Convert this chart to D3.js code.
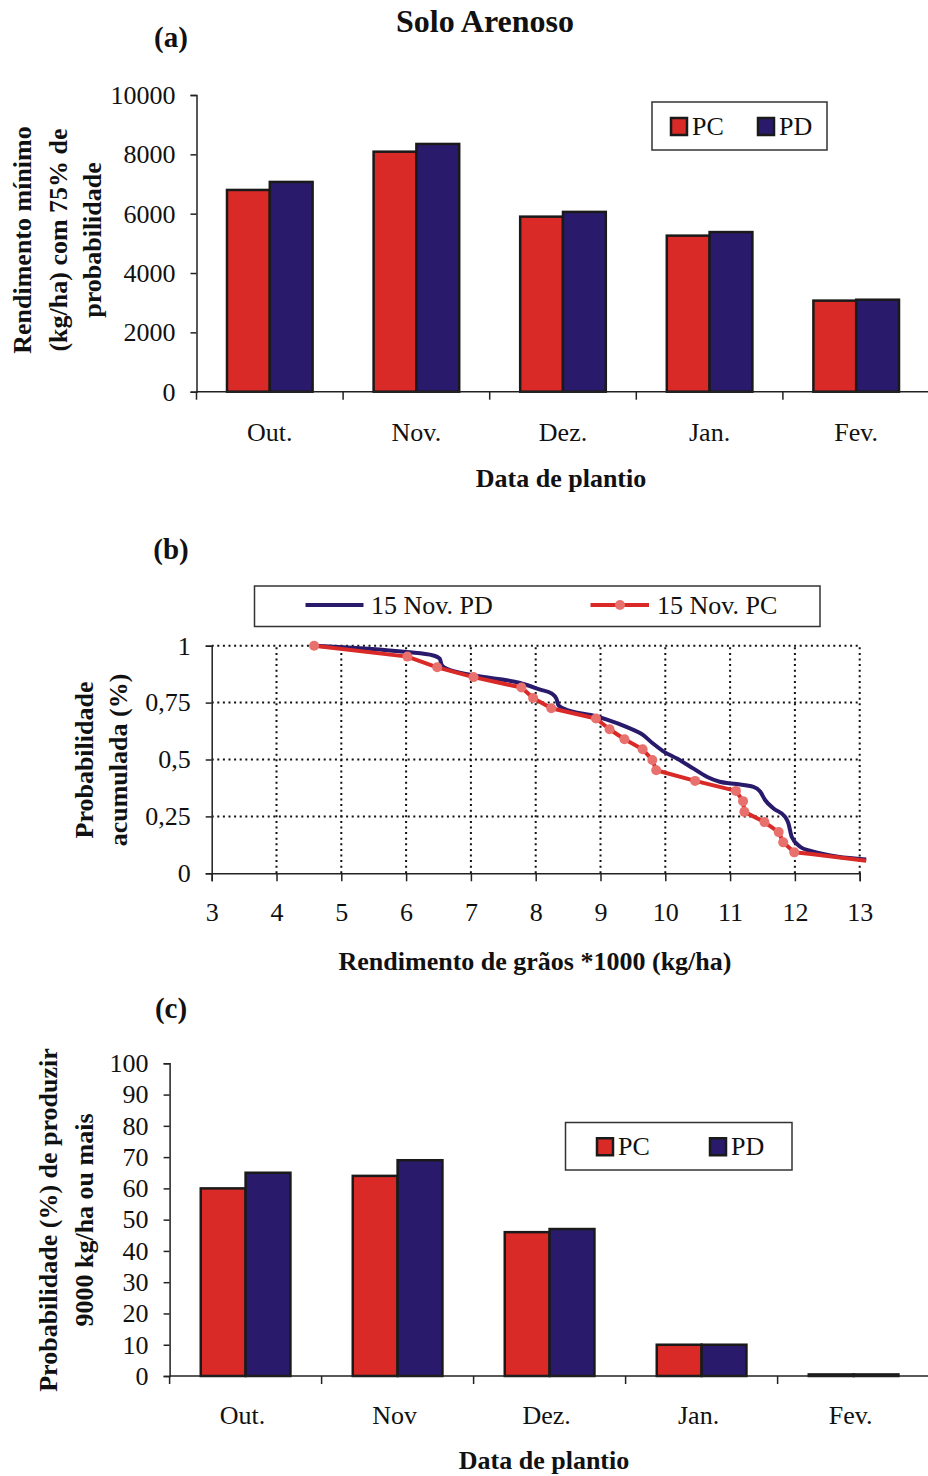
<!DOCTYPE html>
<html><head><meta charset="utf-8">
<script src="https://cdn.jsdelivr.net/npm/d3@7"></script>
<style>body{margin:0;background:#fff}svg{display:block}text{font-family:"Liberation Serif","Times New Roman",serif;fill:#111}</style>
</head><body><svg id="c" width="928" height="1476"></svg>
<script>
// ---------- data ----------
const categoriesA = ["Out.", "Nov.", "Dez.", "Jan.", "Fev."];
const seriesNames = ["PC", "PD"];
const minYieldPC = [6800, 8090, 5900, 5260, 3070];
const minYieldPD = [7070, 8350, 6060, 5380, 3100];
const yTicksA = [0, 2000, 4000, 6000, 8000, 10000];

const pcX = [4.58, 6.02, 6.48, 7.04, 7.78, 7.96, 8.24, 8.93, 9.14, 9.37, 9.65, 9.80, 9.86, 10.46, 11.09, 11.20, 11.22, 11.53, 11.75, 11.82, 11.99, 12.25, 13.1];
const pcY = [1.0, 0.952, 0.905, 0.862, 0.816, 0.770, 0.725, 0.680, 0.633, 0.589, 0.545, 0.498, 0.453, 0.406, 0.362, 0.317, 0.270, 0.225, 0.181, 0.136, 0.092, 0.085, 0.055];
const pcMarker = [1,1,1,1,1,1,1,1,1,1,1,1,1,1,1,1,1,1,1,1,1,0,0];
const pdX = [4.58, 6.01, 6.42, 6.52, 6.55, 6.62, 7.04, 7.76, 8.07, 8.25, 8.32, 8.35, 8.43, 8.93, 9.10, 9.40, 9.66, 9.81, 9.97, 10.18, 10.43, 10.64, 10.84, 11.10, 11.36, 11.46, 11.54, 11.67, 11.85, 11.90, 11.95, 12.08, 12.23, 13.1];
const pdY = [1.0, 0.972, 0.957, 0.943, 0.914, 0.900, 0.870, 0.836, 0.807, 0.789, 0.767, 0.738, 0.724, 0.690, 0.675, 0.643, 0.607, 0.570, 0.536, 0.504, 0.461, 0.424, 0.402, 0.392, 0.380, 0.361, 0.322, 0.285, 0.248, 0.219, 0.161, 0.117, 0.099, 0.061];
const xTicksB = [3,4,5,6,7,8,9,10,11,12,13];
const yTicksB = [0, 0.25, 0.5, 0.75, 1];
const yTickLabelsB = ["0", "0,25", "0,5", "0,75", "1"];

const categoriesC = ["Out.", "Nov", "Dez.", "Jan.", "Fev."];
const probPC = [60, 64, 46, 10, 0.5];
const probPD = [65, 69, 47, 10, 0.5];
const yTicksC = [0,10,20,30,40,50,60,70,80,90,100];

// ---------- style ----------
const RED = "#d92a27", NAVY = "#2a1a6c", MARK = "#e8716d";
const svg = d3.select("#c");
const FS = 26;

svg.append("text").attr("x", 485).attr("y", 32).attr("text-anchor","middle")
  .attr("font-size", 32).attr("font-weight","bold").text("Solo Arenoso");

function panelLabel(t, x, y){
  svg.append("text").attr("x", x).attr("y", y).attr("text-anchor","middle")
    .attr("font-size", 29).attr("font-weight","bold").text(t);
}
panelLabel("(a)", 171, 47);
panelLabel("(b)", 171, 559);
panelLabel("(c)", 171, 1018);

function barPanel(o){
  const g = svg.append("g");
  const x = d3.scaleBand().domain(o.cats).range([o.x0, o.x1]).padding(0);
  const bw = x.bandwidth();
  const xs = d3.scaleBand().domain(seriesNames).range([bw*o.gIn, bw*(1-o.gIn)]).padding(0);
  const y = d3.scaleLinear().domain([0, o.yMax]).range([o.yb, o.yt]);
  const vals = [o.pc, o.pd];
  const cols = [RED, NAVY];
  seriesNames.forEach((s, si) => {
    g.selectAll(null).data(o.cats).enter().append("rect")
      .attr("x", c => x(c) + xs(s)).attr("width", xs.bandwidth())
      .attr("y", (c,i) => y(vals[si][i])).attr("height", (c,i) => y(0) - y(vals[si][i]))
      .attr("fill", cols[si]).attr("stroke", "#1a1a1a").attr("stroke-width", 2.5);
  });
  // y axis
  const ya = d3.axisLeft(y).tickValues(o.yTicks).tickSize(6).tickPadding(15).tickFormat(d3.format("d"));
  const yg = g.append("g").attr("transform", `translate(${o.x0},0)`).call(ya);
  yg.select(".domain").attr("stroke","#222").attr("stroke-width",1.5);
  yg.selectAll(".tick line").attr("stroke","#222").attr("stroke-width",1.5);
  yg.selectAll(".tick text").attr("font-size", FS).attr("font-family","Liberation Serif").attr("fill","#111");
  // x axis line + boundary ticks
  g.append("line").attr("x1", o.x0).attr("x2", o.x1).attr("y1", y(0)).attr("y2", y(0)).attr("stroke","#222").attr("stroke-width",1.5);
  g.selectAll(null).data(o.cats).enter().append("line")
    .attr("x1", c => x(c)).attr("x2", c => x(c)).attr("y1", y(0)).attr("y2", y(0)+8)
    .attr("stroke","#222").attr("stroke-width",1.5);
  g.selectAll(null).data(o.cats).enter().append("text")
    .attr("x", c => x(c) + bw/2 + (o.labDx||0)).attr("y", y(0) + o.labOff).attr("text-anchor","middle")
    .attr("font-size", FS).text(c => c);
  g.append("text").attr("x", o.xtX).attr("y", o.xtY).attr("text-anchor","middle")
    .attr("font-size", FS).attr("font-weight","bold").text("Data de plantio");
  // y title
  o.ytLines.forEach((t, i) => {
    g.append("text").attr("transform", `translate(${o.ytX[i]},${o.ytCy}) rotate(-90)`)
      .attr("text-anchor","middle").attr("font-size", FS).attr("font-weight","bold").text(t);
  });
  // legend
  const L = o.leg;
  g.append("rect").attr("x", L.x).attr("y", L.y).attr("width", L.w).attr("height", L.h)
    .attr("fill","#fff").attr("stroke","#333").attr("stroke-width",1.5);
  seriesNames.forEach((s, si) => {
    g.append("rect").attr("x", L.sx[si]).attr("y", L.y + L.h/2 - 8).attr("width", 16).attr("height", 17)
      .attr("fill", cols[si]).attr("stroke","#1a1a1a").attr("stroke-width",2.5);
    g.append("text").attr("x", L.sx[si] + 21).attr("y", L.y + L.h/2 + 9).attr("font-size", FS).text(s);
  });
}

barPanel({cats: categoriesA, pc: minYieldPC, pd: minYieldPD, x0: 196.5, x1: 929.5, gIn: 0.208,
  yMax: 10000, yb: 391.7, yt: 95, yTicks: yTicksA, labOff: 49, xtX: 561, xtY: 487,
  ytLines: ["Rendimento mínimo", "(kg/ha) com 75% de", "probabilidade"], ytX: [31, 67, 101], ytCy: 240,
  leg: {x: 652, y: 102, w: 175, h: 48, sx: [671, 758]}});

barPanel({cats: categoriesC, pc: probPC, pd: probPD, x0: 169.6, x1: 929.6, gIn: 0.205,
  yMax: 100, yb: 1376, yt: 1063.3, yTicks: yTicksC, labOff: 48, xtX: 544, xtY: 1469, labDx: -3,
  ytLines: ["Probabilidade (%) de produzir", "9000 kg/ha ou mais"], ytX: [57, 93], ytCy: 1220,
  leg: {x: 565.5, y: 1122.5, w: 226.5, h: 47.5, sx: [597, 710]}});

// ---------- panel b ----------
(function(){
  const g = svg.append("g");
  const x = d3.scaleLinear().domain([3, 13]).range([211.7, 859.7]);
  const y = d3.scaleLinear().domain([0, 1]).range([873.3, 645.7]);
  // grid
  xTicksB.filter(d => d > 3).forEach(d => {
    g.append("line").attr("x1", x(d)).attr("x2", x(d)).attr("y1", y(0)).attr("y2", y(1))
      .attr("stroke","#111").attr("stroke-width",2).attr("stroke-dasharray","2,3.6");
  });
  yTicksB.filter(d => d > 0).forEach(d => {
    g.append("line").attr("x1", x(3)).attr("x2", x(13)).attr("y1", y(d)).attr("y2", y(d))
      .attr("stroke","#111").attr("stroke-width",2).attr("stroke-dasharray","2,3.6");
  });
  const xa = d3.axisBottom(x).tickValues(xTicksB).tickSize(8).tickPadding(21).tickFormat(d3.format("d"));
  const xg = g.append("g").attr("transform", `translate(0,${y(0)})`).call(xa);
  const ya = d3.axisLeft(y).tickValues(yTicksB).tickSize(6).tickPadding(15).tickFormat((d,i) => yTickLabelsB[i]);
  const yg = g.append("g").attr("transform", `translate(${x(3)},0)`).call(ya);
  [xg, yg].forEach(a => {
    a.select(".domain").attr("stroke","#222").attr("stroke-width",1.5);
    a.selectAll(".tick line").attr("stroke","#222").attr("stroke-width",1.5);
    a.selectAll(".tick text").attr("font-size", FS).attr("font-family","Liberation Serif").attr("fill","#111");
  });
  const line = d3.line().x(d => x(d[0])).y(d => y(d[1])).curve(d3.curveMonotoneX);
  const pd = pdX.map((v,i) => [v, pdY[i]]);
  const pc = pcX.map((v,i) => [v, pcY[i]]);
  g.append("path").attr("d", line(pd)).attr("fill","none").attr("stroke", NAVY).attr("stroke-width",4).attr("stroke-linejoin","round");
  g.append("path").attr("d", d3.line().x(d => x(d[0])).y(d => y(d[1]))(pc)).attr("fill","none").attr("stroke", RED).attr("stroke-width",4).attr("stroke-linejoin","round");
  g.selectAll(null).data(pc.filter((d,i) => pcMarker[i])).enter().append("circle")
    .attr("cx", d => x(d[0])).attr("cy", d => y(d[1])).attr("r", 5).attr("fill", MARK);
  g.append("text").attr("x", 535).attr("y", 970).attr("text-anchor","middle").attr("font-size", FS).attr("font-weight","bold")
    .text("Rendimento de grãos *1000 (kg/ha)");
  ["Probabilidade", "acumulada (%)"].forEach((t,i) => {
    g.append("text").attr("transform", `translate(${[93,127][i]},760) rotate(-90)`).attr("text-anchor","middle")
      .attr("font-size", FS).attr("font-weight","bold").text(t);
  });
  // legend
  g.append("rect").attr("x", 254.5).attr("y", 586).attr("width", 565.5).attr("height", 40.5)
    .attr("fill","#fff").attr("stroke","#333").attr("stroke-width",1.5);
  g.append("line").attr("x1", 305.5).attr("x2", 363.5).attr("y1", 605).attr("y2", 605).attr("stroke", NAVY).attr("stroke-width",4);
  g.append("text").attr("x", 371).attr("y", 614).attr("font-size", FS).text("15 Nov. PD");
  g.append("line").attr("x1", 590.5).attr("x2", 649).attr("y1", 605).attr("y2", 605).attr("stroke", RED).attr("stroke-width",4);
  g.append("circle").attr("cx", 620).attr("cy", 605).attr("r", 5).attr("fill", MARK);
  g.append("text").attr("x", 657).attr("y", 614).attr("font-size", FS).text("15 Nov. PC");
})();
</script></body></html>
